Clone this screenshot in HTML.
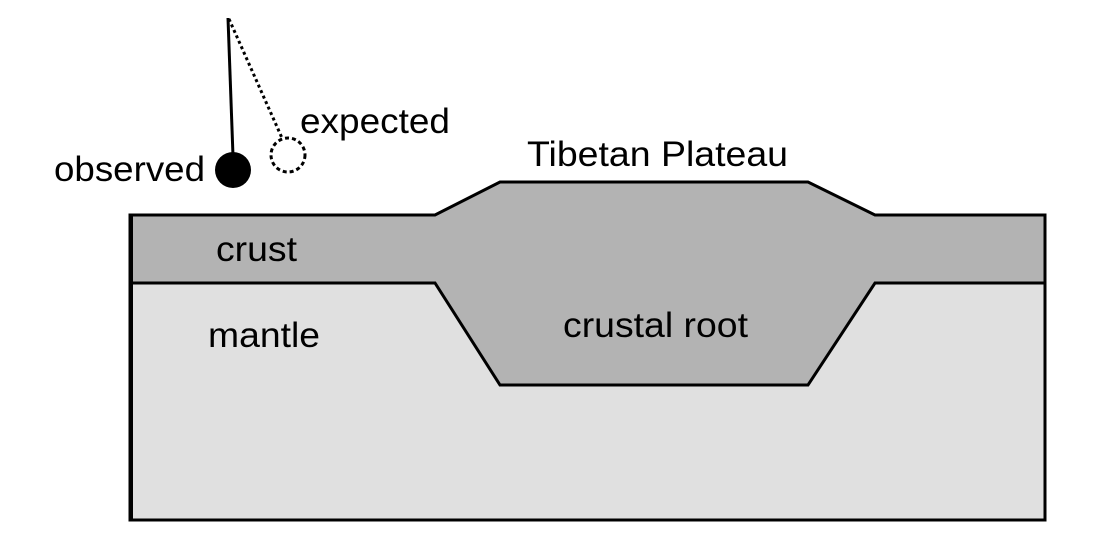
<!DOCTYPE html>
<html><head><style>body{margin:0;background:#fff}svg{display:block}text{font-family:"Liberation Sans",sans-serif;font-size:35px;fill:#000}</style></head>
<body>
<svg width="1100" height="540" viewBox="0 0 1100 540">
<rect x="130" y="215" width="915" height="305" fill="#e0e0e0" stroke="#000" stroke-width="3"/>
<path d="M130 215 H435 L500 182 H808 L875 215 H1045 V283 H875 L808 385 H500 L435 283 H130 Z" fill="#b3b3b3" stroke="#000" stroke-width="3" stroke-linejoin="miter"/>
<line x1="131.5" y1="216.5" x2="131.5" y2="518.5" stroke="#000" stroke-width="3"/>
<line x1="228" y1="18" x2="233" y2="156" stroke="#000" stroke-width="3"/>
<circle cx="233" cy="170" r="18" fill="#000"/>
<line x1="229" y1="19" x2="282" y2="138" stroke="#000" stroke-width="3" stroke-dasharray="3,3"/>
<circle cx="288" cy="155" r="17" fill="none" stroke="#000" stroke-width="3" stroke-dasharray="4,3"/>
<text x="54" y="181" textLength="151" lengthAdjust="spacingAndGlyphs">observed</text>
<text x="300" y="133" textLength="150" lengthAdjust="spacingAndGlyphs">expected</text>
<text x="527" y="166" textLength="261" lengthAdjust="spacingAndGlyphs">Tibetan Plateau</text>
<text x="216" y="261" textLength="81" lengthAdjust="spacingAndGlyphs">crust</text>
<text x="208" y="347" textLength="112" lengthAdjust="spacingAndGlyphs">mantle</text>
<text x="563" y="337" textLength="185" lengthAdjust="spacingAndGlyphs">crustal root</text>
</svg>
</body></html>
